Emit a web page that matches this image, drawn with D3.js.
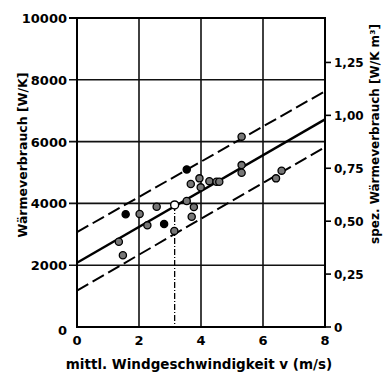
<!DOCTYPE html>
<html>
<head>
<meta charset="utf-8">
<script src="https://cdn.jsdelivr.net/npm/d3@7"></script>
<style>
	body { margin: 0; background: #fff; }
	svg { font-family: "DejaVu Sans", sans-serif; font-weight: bold; }
</style>
</head>
<body>
<svg width="390" height="375"></svg>
<script>
// data
let xTicks = [0, 2, 4, 6, 8];
let yTicks = [0, 2000, 4000, 6000, 8000, 10000];
let yRightTicks = [0, 0.25, 0.5, 0.75, 1.0, 1.25];
let yRightLabels = ["0", "0,25", "0,50", "0,75", "1,00", "1,25"];

let windSpeed = [1.35, 1.48, 1.57, 2.02, 2.27, 2.57, 2.81, 3.14, 3.54, 3.54, 3.67, 3.70, 3.77, 3.95, 3.99, 4.27, 4.50, 4.59, 5.31, 5.31, 5.31, 6.42, 6.60];
let heatUse   = [2760, 2320, 3650, 3660, 3290, 3890, 3330, 3110, 5100, 4080, 4630, 3570, 3880, 4810, 4520, 4720, 4700, 4700, 5240, 4990, 6160, 4810, 5060];
let solidMark = [0, 0, 1, 0, 0, 0, 1, 0, 1, 0, 0, 0, 0, 0, 0, 0, 0, 0, 0, 0, 0, 0, 0];

let lineV = [0, 8];
let fitMean  = [2080, 6720];
let fitUpper = [3070, 7630];
let fitLower = [1180, 5820];

let markV = 3.15, markQ = 3950;

let svg = d3.select("svg"),
	pLeft = 77, pRight = 325, pTop = 18, pBottom = 327;

let x = d3.scaleLinear().domain([0, 8]).range([pLeft, pRight]);
let y = d3.scaleLinear().domain([0, 10000]).range([pBottom, pTop]);
let y2 = d3.scaleLinear().domain([0, 1.46]).range([pBottom, pTop]);

let ggrid = svg.append("g").attr('class','grid');
let glines = svg.append("g").attr('class','lines');
let gobj = svg.append("g").attr('class','obj');

// grid
ggrid.selectAll("line.h")
		.data(yTicks.slice(1, -1))
	.enter().append("line")
		.attr("x1", pLeft - 8).attr("x2", pRight)
		.attr("y1", d => y(d)).attr("y2", d => y(d))
		.attr("stroke", "#111").attr("stroke-width", 1.6);

ggrid.selectAll("line.v")
		.data(xTicks.slice(1, -1))
	.enter().append("line")
		.attr("x1", d => x(d)).attr("x2", d => x(d))
		.attr("y1", pTop).attr("y2", pBottom)
		.attr("stroke", "#111").attr("stroke-width", 1.6);

ggrid.append("rect")
	.attr("x", pLeft).attr("y", pTop)
	.attr("width", pRight - pLeft).attr("height", pBottom - pTop)
	.attr("fill", "none").attr("stroke", "#000").attr("stroke-width", 2);

ggrid.append("line")
	.attr("x1", pLeft - 8).attr("x2", pLeft)
	.attr("y1", pTop).attr("y2", pTop)
	.attr("stroke", "#000").attr("stroke-width", 2);

// left labels
svg.append("g").selectAll("text")
		.data(yTicks)
	.enter().append("text")
		.attr("x", pLeft - 10)
		.attr("y", d => y(d) + (d === 0 ? 8 : 5))
		.attr("text-anchor", "end")
		.attr("font-size", 13)
		.text(d => d);

// bottom labels
svg.append("g").selectAll("text")
		.data(xTicks)
	.enter().append("text")
		.attr("x", d => x(d))
		.attr("y", pBottom + 18)
		.attr("text-anchor", "middle")
		.attr("font-size", 13)
		.text(d => d);

// right axis
let gr = svg.append("g");
gr.selectAll("line")
		.data(yRightTicks)
	.enter().append("line")
		.attr("x1", pRight).attr("x2", pRight + 6)
		.attr("y1", d => y2(d)).attr("y2", d => y2(d))
		.attr("stroke", "#000").attr("stroke-width", 1.6);
gr.selectAll("text")
		.data(yRightTicks)
	.enter().append("text")
		.attr("x", pRight + 9)
		.attr("y", d => y2(d) + 5)
		.attr("font-size", 12)
		.text((d, i) => yRightLabels[i]);

// axis titles
svg.append("text")
	.attr("transform", "translate(27,155) rotate(-90)")
	.attr("text-anchor", "middle")
	.attr("font-size", 12.5)
	.text("Wärmeverbrauch  [W/K]");

svg.append("text")
	.attr("transform", "translate(379,134) rotate(-90)")
	.attr("text-anchor", "middle")
	.attr("font-size", 12)
	.text("spez. Wärmeverbrauch [W/K m³]");

svg.append("text")
	.attr("x", 199).attr("y", 369)
	.attr("text-anchor", "middle")
	.attr("font-size", 13.5)
	.text("mittl. Windgeschwindigkeit  v (m/s)");

// regression lines
let lineGen = d3.line().x(d => x(d[0])).y(d => y(d[1]));
let fits = [
	{ v: fitMean, dash: null, w: 2.4 },
	{ v: fitUpper, dash: "13,5", w: 2 },
	{ v: fitLower, dash: "13,5", w: 2 }
];
glines.selectAll("path")
		.data(fits)
	.enter().append("path")
		.attr("d", f => lineGen(lineV.map((v, i) => [v, f.v[i]])))
		.attr("fill", "none")
		.attr("stroke", "#000")
		.attr("stroke-width", f => f.w)
		.attr("stroke-dasharray", f => f.dash);

// marked point drop line
glines.append("line")
	.attr("x1", x(markV)).attr("x2", x(markV))
	.attr("y1", y(markQ)).attr("y2", pBottom)
	.attr("stroke", "#000").attr("stroke-width", 1.3)
	.attr("stroke-dasharray", "6,2,1,2");

// points
gobj.selectAll("circle")
		.data(windSpeed)
	.enter().append("circle")
		.attr("r", 3.6)
		.attr("cx", d => x(d))
		.attr("cy", (d, i) => y(heatUse[i]))
		.attr("fill", (d, i) => solidMark[i] ? '#000' : '#777')
		.attr("stroke", "#000")
		.attr("stroke-width", 1.3);

gobj.append("circle")
	.attr("r", 4)
	.attr("cx", x(markV))
	.attr("cy", y(markQ))
	.attr("fill", "#fff")
	.attr("stroke", "#000")
	.attr("stroke-width", 1.4);
</script>
</body>
</html>
